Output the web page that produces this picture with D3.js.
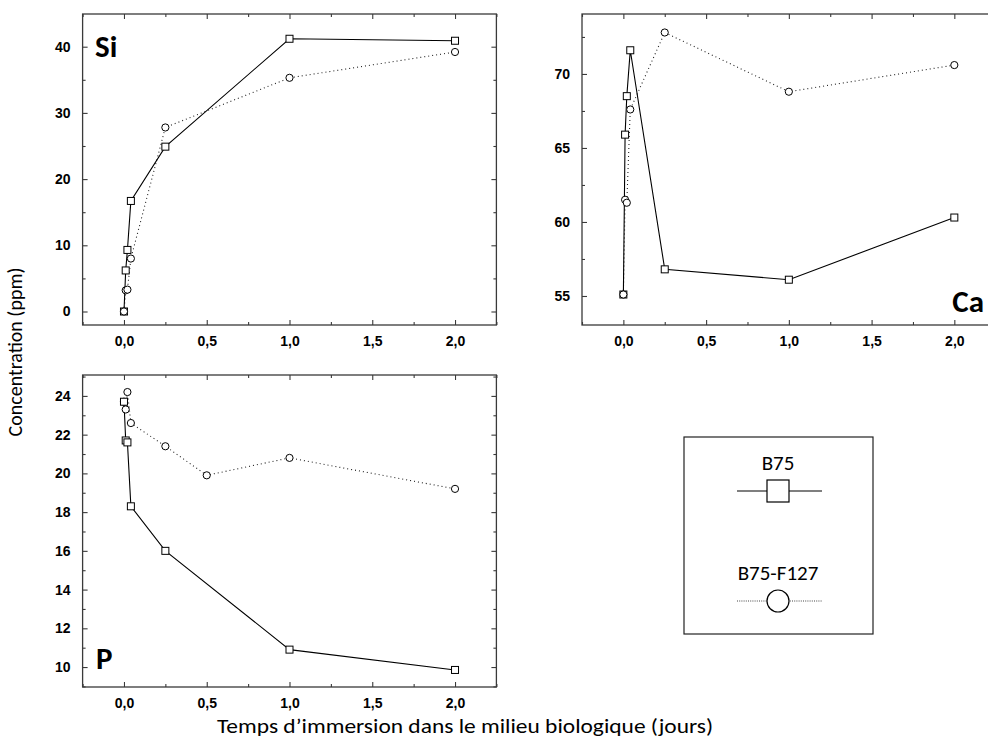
<!DOCTYPE html>
<html>
<head>
<meta charset="utf-8">
<script src="https://cdn.jsdelivr.net/npm/d3@7"></script>
<style>
  html, body { margin: 0; padding: 0; background: #fff; }
  svg { display: block; }
</style>
</head>
<body>
<svg id="chart" width="988" height="740"></svg>
<script>
// ---------------- DATA ----------------
const timesB75 = [0, 0.0104, 0.0208, 0.0417, 0.25, 1, 2];
const timesF127 = [0, 0.0104, 0.0208, 0.0417, 0.25, 1, 2];
const timesF127P = [0, 0.0104, 0.0208, 0.0417, 0.25, 0.5, 1, 2];

const siB75  = [0, 6.2, 9.3, 16.7, 24.9, 41.2, 40.9];
const siF127 = [0, 3.2, 3.3, 8.0, 27.8, 35.3, 39.2];

const caB75  = [55.1, 65.9, 68.5, 71.6, 56.8, 56.1, 60.3];
const caF127 = [55.1, 61.5, 61.3, 67.6, 72.8, 68.8, 70.6];

const pB75   = [23.7, 21.7, 21.6, 18.3, 16.0, 10.9, 9.85];
const pF127  = [23.7, 23.3, 24.2, 22.6, 21.4, 19.9, 20.8, 19.2];

const xMajorTicks = [0, 0.5, 1, 1.5, 2];
const xMinorTicks = [-0.25, 0.25, 0.75, 1.25, 1.75, 2.25];
const siMajorTicks = [0, 10, 20, 30, 40];
const siMinorTicks = [5, 15, 25, 35];
const caMajorTicks = [55, 60, 65, 70];
const caMinorTicks = [57.5, 62.5, 67.5, 72.5];
const pMajorTicks = [10, 12, 14, 16, 18, 20, 22, 24];
const pMinorTicks = [9, 11, 13, 15, 17, 19, 21, 23, 25];

const seriesNames = ["B75", "B75-F127"];
const xTitle = "Temps d\u2019immersion dans le milieu biologique (jours)";
const yTitle = "Concentration (ppm)";

// ---------------- LAYOUT ----------------
const svg = d3.select("#chart");
const titleFont = "Carlito, Lato, 'Open Sans', sans-serif";
const tickFont = "'Liberation Sans', Arial, sans-serif";

const panels = [
  { label: "Si", left: 82.6, right: 496.4, top: 14, bottom: 325, ydom: [-2.04, 44.94],
    yMajor: siMajorTicks, yMinor: siMinorTicks, yFmt: d3.format("d"),
    b75: [timesB75, siB75], f127: [timesF127, siF127], circlesOnTop: true,
    labelPos: { x: 95, y: 57, anchor: "start" } },
  { label: "Ca", left: 582, right: 995.7, top: 14, bottom: 325, ydom: [53.04, 74.05],
    yMajor: caMajorTicks, yMinor: caMinorTicks, yFmt: d3.format("d"),
    b75: [timesB75, caB75], f127: [timesF127, caF127], circlesOnTop: true,
    labelPos: { x: 984, y: 312, anchor: "end" } },
  { label: "P", left: 82.6, right: 496.4, top: 375, bottom: 687, ydom: [8.97, 25.08],
    yMajor: pMajorTicks, yMinor: pMinorTicks, yFmt: d3.format("d"),
    b75: [timesB75, pB75], f127: [timesF127P, pF127], circlesOnTop: false,
    labelPos: { x: 96, y: 669, anchor: "start" } }
];

const xFmt = d => d3.format(".1f")(d).replace(".", ",");
const frameColor = "#3a3a3a";

panels.forEach(p => {
  const x = d3.scaleLinear().domain([-0.25, 2.25]).range([p.left, p.right]);
  const y = d3.scaleLinear().domain(p.ydom).range([p.bottom, p.top]);
  const g = svg.append("g");

  // clip
  const cid = "clip-" + p.label;
  svg.append("clipPath").attr("id", cid).append("rect")
    .attr("x", p.left).attr("y", p.top).attr("width", p.right - p.left).attr("height", p.bottom - p.top);

  // axes helper
  function axisStyle(sel) {
    sel.select(".domain").remove();
    sel.selectAll(".tick line").attr("stroke", frameColor).attr("stroke-width", 1.1);
  }
  // bottom
  g.append("g").attr("transform", `translate(0,${p.bottom})`)
    .call(d3.axisBottom(x).tickValues(xMajorTicks).tickSize(-5).tickPadding(11).tickFormat(xFmt))
    .call(axisStyle)
    .selectAll("text").attr("font-family", tickFont).attr("font-weight", "bold").attr("font-size", 14).attr("fill", "#000");
  g.append("g").attr("transform", `translate(0,${p.bottom})`)
    .call(d3.axisBottom(x).tickValues(xMinorTicks).tickSize(-3).tickFormat(""))
    .call(axisStyle);
  // top
  g.append("g").attr("transform", `translate(0,${p.top})`)
    .call(d3.axisTop(x).tickValues(xMajorTicks).tickSize(-5).tickFormat(""))
    .call(axisStyle);
  g.append("g").attr("transform", `translate(0,${p.top})`)
    .call(d3.axisTop(x).tickValues(xMinorTicks).tickSize(-3).tickFormat(""))
    .call(axisStyle);
  // left
  g.append("g").attr("transform", `translate(${p.left},0)`)
    .call(d3.axisLeft(y).tickValues(p.yMajor).tickSize(-5).tickPadding(12).tickFormat(p.yFmt))
    .call(axisStyle)
    .selectAll("text").attr("font-family", tickFont).attr("font-weight", "bold").attr("font-size", 14).attr("fill", "#000");
  g.append("g").attr("transform", `translate(${p.left},0)`)
    .call(d3.axisLeft(y).tickValues(p.yMinor).tickSize(-3).tickFormat(""))
    .call(axisStyle);
  // right
  g.append("g").attr("transform", `translate(${p.right},0)`)
    .call(d3.axisRight(y).tickValues(p.yMajor).tickSize(-5).tickFormat(""))
    .call(axisStyle);
  g.append("g").attr("transform", `translate(${p.right},0)`)
    .call(d3.axisRight(y).tickValues(p.yMinor).tickSize(-3).tickFormat(""))
    .call(axisStyle);

  // frame
  g.append("rect").attr("x", p.left).attr("y", p.top)
    .attr("width", p.right - p.left).attr("height", p.bottom - p.top)
    .attr("fill", "none").attr("stroke", frameColor).attr("stroke-width", 1.3);

  const line = d3.line().x(d => x(d[0])).y(d => y(d[1]));
  const b75 = d3.zip(p.b75[0], p.b75[1]);
  const f127 = d3.zip(p.f127[0], p.f127[1]);

  const pg = g.append("g").attr("clip-path", `url(#${cid})`);
  pg.append("path").datum(f127).attr("d", line).attr("fill", "none")
    .attr("stroke", "#222").attr("stroke-width", 1.1).attr("stroke-dasharray", "1,3");
  pg.append("path").datum(b75).attr("d", line).attr("fill", "none")
    .attr("stroke", "#000").attr("stroke-width", 1.1);

  function drawSquares() {
    g.append("g").selectAll("rect").data(b75).join("rect")
      .attr("x", d => x(d[0]) - 3.5).attr("y", d => y(d[1]) - 3.5)
      .attr("width", 7).attr("height", 7)
      .attr("fill", "#fff").attr("stroke", "#000").attr("stroke-width", 1);
  }
  function drawCircles() {
    g.append("g").selectAll("circle").data(f127).join("circle")
      .attr("cx", d => x(d[0])).attr("cy", d => y(d[1])).attr("r", 3.6)
      .attr("fill", "#fff").attr("stroke", "#000").attr("stroke-width", 1);
  }
  if (p.circlesOnTop) { drawSquares(); drawCircles(); } else { drawCircles(); drawSquares(); }

  // panel label
  g.append("text").attr("x", p.labelPos.x).attr("y", p.labelPos.y)
    .attr("text-anchor", p.labelPos.anchor)
    .attr("font-family", titleFont).attr("font-weight", "bold").attr("font-size", 31)
    .attr("fill", "#000").text(p.label);
});

// axis titles
svg.append("text").attr("x", 465).attr("y", 733).attr("text-anchor", "middle")
  .attr("font-family", titleFont).attr("font-size", 20).attr("fill", "#000")
  .attr("textLength", 496).attr("lengthAdjust", "spacingAndGlyphs")
  .text(xTitle);
svg.append("text").attr("transform", "translate(22,352) rotate(-90)").attr("text-anchor", "middle")
  .attr("font-family", titleFont).attr("font-size", 20).attr("fill", "#000")
  .text(yTitle);

// legend
const lg = svg.append("g");
lg.append("rect").attr("x", 684).attr("y", 437).attr("width", 189).attr("height", 197)
  .attr("fill", "#fff").attr("stroke", "#222").attr("stroke-width", 1.2);
const legendItems = [
  { name: seriesNames[0], textY: 470, symY: 491, type: "square" },
  { name: seriesNames[1], textY: 580, symY: 601, type: "circle" }
];
legendItems.forEach(it => {
  lg.append("text").attr("x", 778).attr("y", it.textY).attr("text-anchor", "middle")
    .attr("font-family", titleFont).attr("font-size", 21).attr("fill", "#000").text(it.name);
  const ln = lg.append("line").attr("x1", 737).attr("x2", 822).attr("y1", it.symY).attr("y2", it.symY)
    .attr("stroke", "#000").attr("stroke-width", 1.1);
  if (it.type === "square") {
    lg.append("rect").attr("x", 767).attr("y", it.symY - 11).attr("width", 22).attr("height", 22)
      .attr("fill", "#fff").attr("stroke", "#000").attr("stroke-width", 1.2);
  } else {
    ln.attr("stroke-dasharray", "1,1.2").attr("stroke", "#444");
    lg.append("circle").attr("cx", 778).attr("cy", it.symY).attr("r", 11)
      .attr("fill", "#fff").attr("stroke", "#000").attr("stroke-width", 1.2);
  }
});
</script>
</body>
</html>
